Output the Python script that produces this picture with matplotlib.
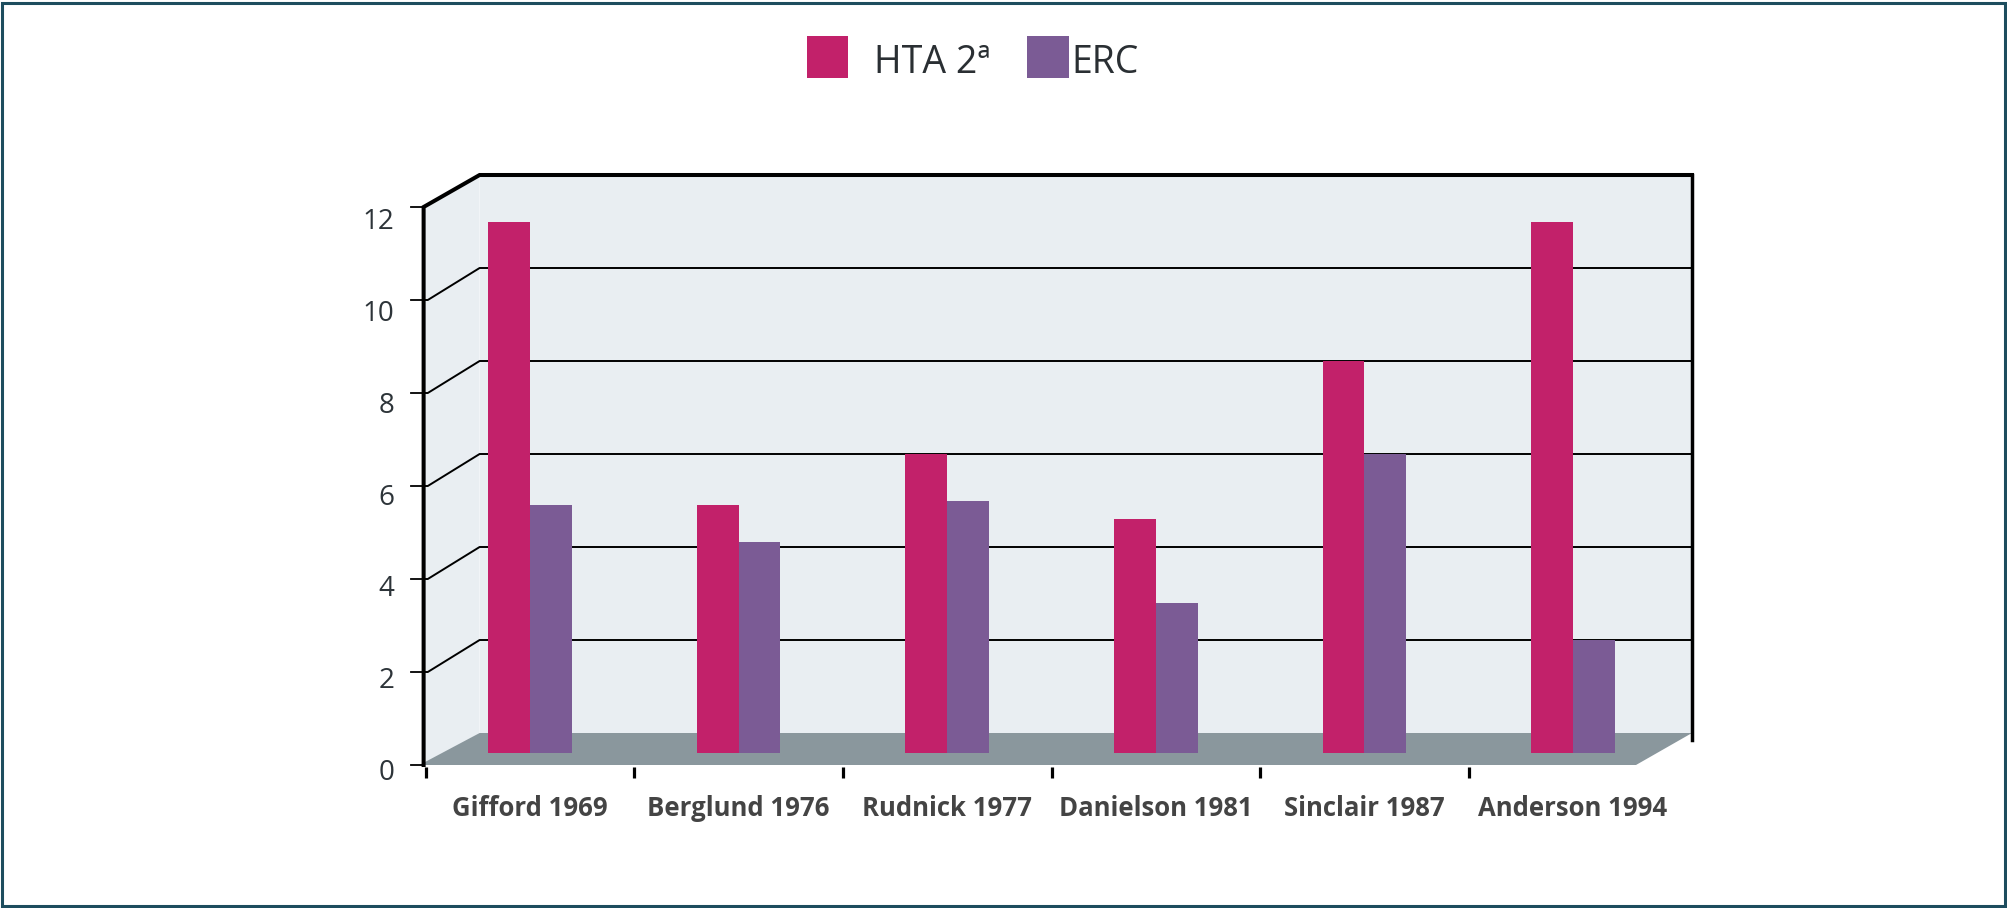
import matplotlib
matplotlib.use("Agg")
import matplotlib.pyplot as plt
from matplotlib.patches import Rectangle, Polygon
import numpy as np

# ---- data ----
categories = ["Gifford 1969", "Berglund 1976", "Rudnick 1977",
              "Danielson 1981", "Sinclair 1987", "Anderson 1994"]
hta_values = [11.0, 4.9, 6.0, 4.6, 8.0, 11.0]
erc_values = [4.9, 4.1, 5.0, 2.8, 6.0, 2.0]
series_names = ["HTA 2ª", "ERC"]
y_ticks = [0, 2, 4, 6, 8, 10, 12]

# ---- style / layout ----
HTA_COLOR = "#c2216a"
ERC_COLOR = "#7b5b95"
WALL_COLOR = "#e9eef2"
FLOOR_COLOR = "#8a979d"
FRAME_COLOR = "#1d4d5e"
FONT = ["Open Sans", "DejaVu Sans"]

W, H, DPI = 2008, 908, 100
X0_PX, SX = 530.0, 208.6   # pixel of category 0, px per category
Y0_PX, SY = 733.0, 46.5    # pixel (from top) of back-plane 0, px per unit
DX = 56 / SX               # depth offset (front -> back) in data units
DY = 32 / SY
LEFT = -0.51               # front left edge
RIGHT = (1692 - X0_PX) / SX  # back right edge
BAR_BASE = (Y0_PX - 753) / SY
BAR_W = 0.2
YMAX = 12

fig = plt.figure(figsize=(W / DPI, H / DPI), dpi=DPI)
fig.patch.set_facecolor("white")
ax = fig.add_axes([0, 0, 1, 1])
ax.set_xlim(-X0_PX / SX, (W - X0_PX) / SX)
ax.set_ylim(-(H - Y0_PX) / SY, Y0_PX / SY)
ax.axis("off")

# back wall and side wall
ax.add_patch(Rectangle((LEFT + DX, 0), RIGHT - (LEFT + DX), YMAX,
                       facecolor=WALL_COLOR, edgecolor="none", zorder=1))
ax.add_patch(Polygon([(LEFT, -DY), (LEFT, YMAX - DY), (LEFT + DX, YMAX), (LEFT + DX, 0)],
                     closed=True, facecolor=WALL_COLOR, edgecolor="none", zorder=1))
# floor
ax.add_patch(Polygon([(LEFT - 0.02, -DY), (LEFT + DX, 0), (RIGHT, 0), (RIGHT - DX, -DY)],
                     closed=True, facecolor=FLOOR_COLOR, edgecolor="none", zorder=2))

# gridlines (back plane) with slanted side-wall connectors
for v in y_ticks[1:-1]:
    ax.plot([LEFT, LEFT + 0.02, LEFT + DX, RIGHT], [v - DY, v - DY, v, v],
            color="black", lw=1.4, zorder=3, solid_capstyle="butt")

# bars
x = np.arange(len(categories))
ax.bar(x - BAR_W / 2, np.array(hta_values) - BAR_BASE, bottom=BAR_BASE, width=BAR_W,
       color=HTA_COLOR, zorder=4)
ax.bar(x + BAR_W / 2, np.array(erc_values) - BAR_BASE, bottom=BAR_BASE, width=BAR_W,
       color=ERC_COLOR, zorder=4)

# thick frame edges
ax.plot([LEFT, LEFT, LEFT + DX, RIGHT], [-DY, YMAX - DY, YMAX, YMAX],
        color="black", lw=2.9, zorder=5, solid_joinstyle="miter")
ax.plot([RIGHT, RIGHT], [YMAX, -0.15], color="black", lw=2.5, zorder=5)

# y ticks & labels on the front plane
for v in y_ticks:
    ax.plot([LEFT - 13 / SX, LEFT], [v - DY, v - DY], color="black", lw=1.3, zorder=5)
    ax.text(LEFT - 29 / SX, v - DY - (8 + 0.6 * v) / SY, str(v), ha="right", va="center",
            fontsize=20, color="#2d3439", family=FONT, zorder=6)

# x ticks & labels
for k in range(len(categories)):
    ax.plot([k - 0.5, k - 0.5], [-DY - 2 / SY, -DY - 13 / SY], color="black",
            lw=2.3, zorder=5, solid_capstyle="butt")
for i, c in enumerate(categories):
    ax.text(i, -DY - 43 / SY, c, ha="center", va="center", fontsize=18.5,
            fontweight="bold", color="#444444", family=FONT, zorder=6)

# legend (manual, centered at top)
def fx(px):
    return px / W

def fy(py):
    return 1 - py / H

fig.add_artist(Rectangle((fx(807), fy(78)), fx(848) - fx(807), fy(36) - fy(78),
                         transform=fig.transFigure, facecolor=HTA_COLOR, edgecolor="none"))
fig.add_artist(Rectangle((fx(1027), fy(78)), fx(1069) - fx(1027), fy(36) - fy(78),
                         transform=fig.transFigure, facecolor=ERC_COLOR, edgecolor="none"))
fig.text(fx(874), fy(73), series_names[0], ha="left", va="baseline", fontsize=27,
         color="#2a2f33", family=FONT)
fig.text(fx(1071), fy(73), series_names[1], ha="left", va="baseline", fontsize=27,
         color="#2a2f33", family=FONT)

# outer frame
fig.add_artist(Rectangle((fx(2.5), fy(H - 2.5)), fx(W - 5), fy(2.5) - fy(H - 2.5),
                         transform=fig.transFigure, facecolor="none",
                         edgecolor=FRAME_COLOR, lw=2.2))

fig.savefig("out.png", dpi=DPI, facecolor="white")
